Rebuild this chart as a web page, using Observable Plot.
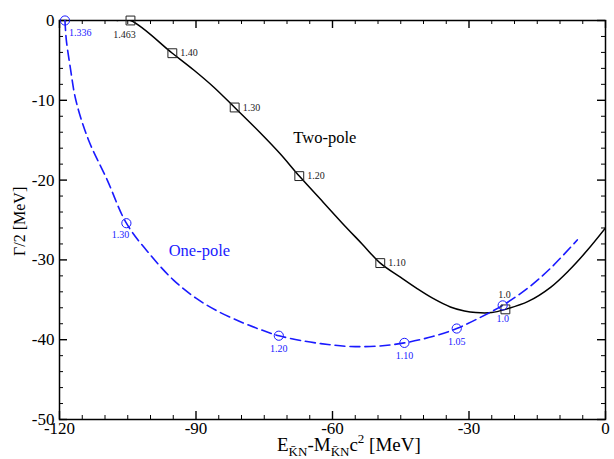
<!DOCTYPE html>
<html><head><meta charset="utf-8">
<script src="https://cdn.jsdelivr.net/npm/d3@7"></script>
<script src="https://cdn.jsdelivr.net/npm/@observablehq/plot@0.6"></script>
<style>body{margin:0;background:#fff} svg{display:block}</style>
</head><body><div id="chart"></div>
<script>
// tick values
const xTicks = [-120, -90, -60, -30, 0];
const xMinor = [-115, -110, -105, -100, -95, -85, -80, -75, -70, -65, -55, -50, -45, -40, -35, -25, -20, -15, -10, -5];
const yTicks = [0, -10, -20, -30, -40, -50];
const yMinor = [-2, -4, -6, -8, -12, -14, -16, -18, -22, -24, -26, -28, -32, -34, -36, -38, -42, -44, -46, -48];

// Two-pole curve (black solid)
const twoPoleE = [-107.3, -104.4, -95.2, -90.5, -86.2, -81.5, -76, -71.5, -67.3, -62, -58, -53.5, -49.5, -45, -41.4, -38, -34.1, -31, -28.5, -25, -22, -17, -12, -8, -4, 0];
const twoPoleG = [0, 0, -4.1, -6.2, -8.3, -10.9, -14.0, -16.7, -19.5, -22.8, -25.3, -28.0, -30.4, -32.2, -33.6, -34.8, -35.9, -36.4, -36.6, -36.6, -36.2, -35.2, -33.4, -31.3, -28.8, -26.0];

// One-pole curve (blue dashed)
const onePoleE = [-118.8, -118.5, -117.6, -116.4, -113.6, -109.5, -105.3, -100, -95, -90, -85, -80, -76, -71.8, -66, -61, -56, -50, -44.2, -38, -32.7, -27.5, -22.6, -17, -12, -6.2];
const onePoleG = [0, -2.45, -6, -10, -15, -20, -25.4, -29.4, -32.5, -34.8, -36.5, -37.8, -38.7, -39.5, -40.2, -40.6, -40.85, -40.8, -40.4, -39.6, -38.6, -37.2, -35.7, -33.5, -31.0, -27.5];

// markers
const sqE = [-104.4, -95.2, -81.5, -67.3, -49.5, -22.0];
const sqG = [0, -4.1, -10.9, -19.5, -30.4, -36.2];
const sqLabel = ["1.463", "1.40", "1.30", "1.20", "1.10", "1.0"];
const ciE = [-118.8, -105.3, -71.8, -44.2, -32.7, -22.6];
const ciG = [0, -25.4, -39.5, -40.4, -38.6, -35.7];
const ciLabel = ["1.336", "1.30", "1.20", "1.10", "1.05", "1.0"];

const curveLabels = ["Two-pole", "One-pole"];
const curveLabelE = [-68.6, -96];
const curveLabelG = [-14.7, -28.8];

const FONT = "Liberation Serif, Times New Roman, serif";
const W = 614, H = 459, ML = 59, MR = 9, MT = 20, MB = 40;
const PW = W - ML - MR, PH = H - MT - MB;

const two = twoPoleE.map((e, i) => ({e, g: twoPoleG[i]}));
const one = onePoleE.map((e, i) => ({e, g: onePoleG[i]}));
const sq = sqE.map((e, i) => ({e, g: sqG[i], label: sqLabel[i], i}));
const ci = ciE.map((e, i) => ({e, g: ciG[i], label: ciLabel[i], i}));

const blue = "#1a1aff";

const svg = Plot.plot({
  width: W, height: H,
  marginLeft: ML, marginRight: MR, marginTop: MT, marginBottom: MB,
  style: {fontFamily: FONT, fontSize: "17px", background: "white", color: "black"},
  x: {domain: [-120, 0], axis: null},
  y: {domain: [-50, 0], axis: null},
  marks: [
    // ticks inward on all four sides
    Plot.ruleX(xTicks, {x: d => d, insetTop: PH - 8, strokeWidth: 1.4}),
    Plot.ruleX(xTicks, {x: d => d, insetBottom: PH - 8, strokeWidth: 1.4}),
    Plot.ruleX(xMinor, {x: d => d, insetTop: PH - 4, strokeWidth: 1}),
    Plot.ruleX(xMinor, {x: d => d, insetBottom: PH - 4, strokeWidth: 1}),
    Plot.ruleY(yTicks, {y: d => d, insetRight: PW - 8, strokeWidth: 1.4}),
    Plot.ruleY(yTicks, {y: d => d, insetLeft: PW - 8, strokeWidth: 1.4}),
    Plot.ruleY(yMinor, {y: d => d, insetRight: PW - 4, strokeWidth: 1}),
    Plot.ruleY(yMinor, {y: d => d, insetLeft: PW - 4, strokeWidth: 1}),
    Plot.frame({stroke: "black", strokeWidth: 1.5}),
    Plot.axisX(xTicks, {tickSize: 0, tickPadding: 2, tickFormat: d => String(d), fontSize: 17, label: null}),
    Plot.axisY(yTicks, {tickSize: 0, tickPadding: 5, tickFormat: d => String(d), fontSize: 17, label: null}),
    // curves
    Plot.line(two, {x: "e", y: "g", stroke: "black", strokeWidth: 1.5, curve: "catmull-rom", clip: true}),
    Plot.line(one, {x: "e", y: "g", stroke: blue, strokeWidth: 1.6, strokeDasharray: "10,5", curve: "catmull-rom"}),
    // markers
    Plot.dot(sq, {x: "e", y: "g", symbol: "square", r: 5, stroke: "#222", strokeWidth: 1, fill: "none"}),
    Plot.dot(ci, {x: "e", y: "g", r: 4.6, stroke: blue, strokeWidth: 1, fill: "none"}),
    // marker labels
    Plot.text(sq.filter(d => d.i === 0), {x: "e", y: "g", text: "label", dx: -6, dy: 14, fontSize: 10, fill: "#222"}),
    Plot.text(sq.filter(d => d.i > 0 && d.i < 5), {x: "e", y: "g", text: "label", dx: 8, textAnchor: "start", fontSize: 10, fill: "#222"}),
    Plot.text(sq.filter(d => d.i === 5), {x: "e", y: "g", text: "label", dx: -1, dy: -15, fontSize: 10, fill: "#222"}),
    Plot.text(ci.filter(d => d.i === 0), {x: "e", y: "g", text: "label", dx: 4, dy: 12, textAnchor: "start", fontSize: 10, fill: blue}),
    Plot.text(ci.filter(d => d.i === 1), {x: "e", y: "g", text: "label", dx: -6, dy: 12, fontSize: 10, fill: blue}),
    Plot.text(ci.filter(d => d.i > 1), {x: "e", y: "g", text: "label", dy: 13, fontSize: 10, fill: blue}),
    // curve labels
    Plot.text([0], {x: curveLabelE[0], y: curveLabelG[0], text: () => curveLabels[0], textAnchor: "start", fontSize: 16.5, fill: "black"}),
    Plot.text([0], {x: curveLabelE[1], y: curveLabelG[1], text: () => curveLabels[1], textAnchor: "start", fontSize: 16.5, fill: blue})
  ]
});

// y-axis label (runs upward from y=256)
d3.select(svg).append("text")
  .attr("transform", "translate(25,256) rotate(-90)")
  .attr("text-anchor", "start")
  .attr("font-family", FONT).attr("font-size", 16).attr("fill", "black")
  .text("Γ/2 [MeV]");

// x-axis label with sub/superscripts
const xl = d3.select(svg).append("text")
  .attr("x", 277).attr("y", 451).attr("text-anchor", "start")
  .attr("font-family", FONT).attr("font-size", 19).attr("fill", "black");
xl.append("tspan").text("E");
xl.append("tspan").attr("font-size", 13).attr("dy", 5).text("K\u0304N");
xl.append("tspan").attr("dy", -5).text("-M");
xl.append("tspan").attr("font-size", 13).attr("dy", 5).text("K\u0304N");
xl.append("tspan").attr("dy", -5).text("c");
xl.append("tspan").attr("font-size", 13).attr("dy", -8).text("2");
xl.append("tspan").attr("dy", 8).text(" [MeV]");

document.getElementById("chart").appendChild(svg);
</script>
</body></html>
